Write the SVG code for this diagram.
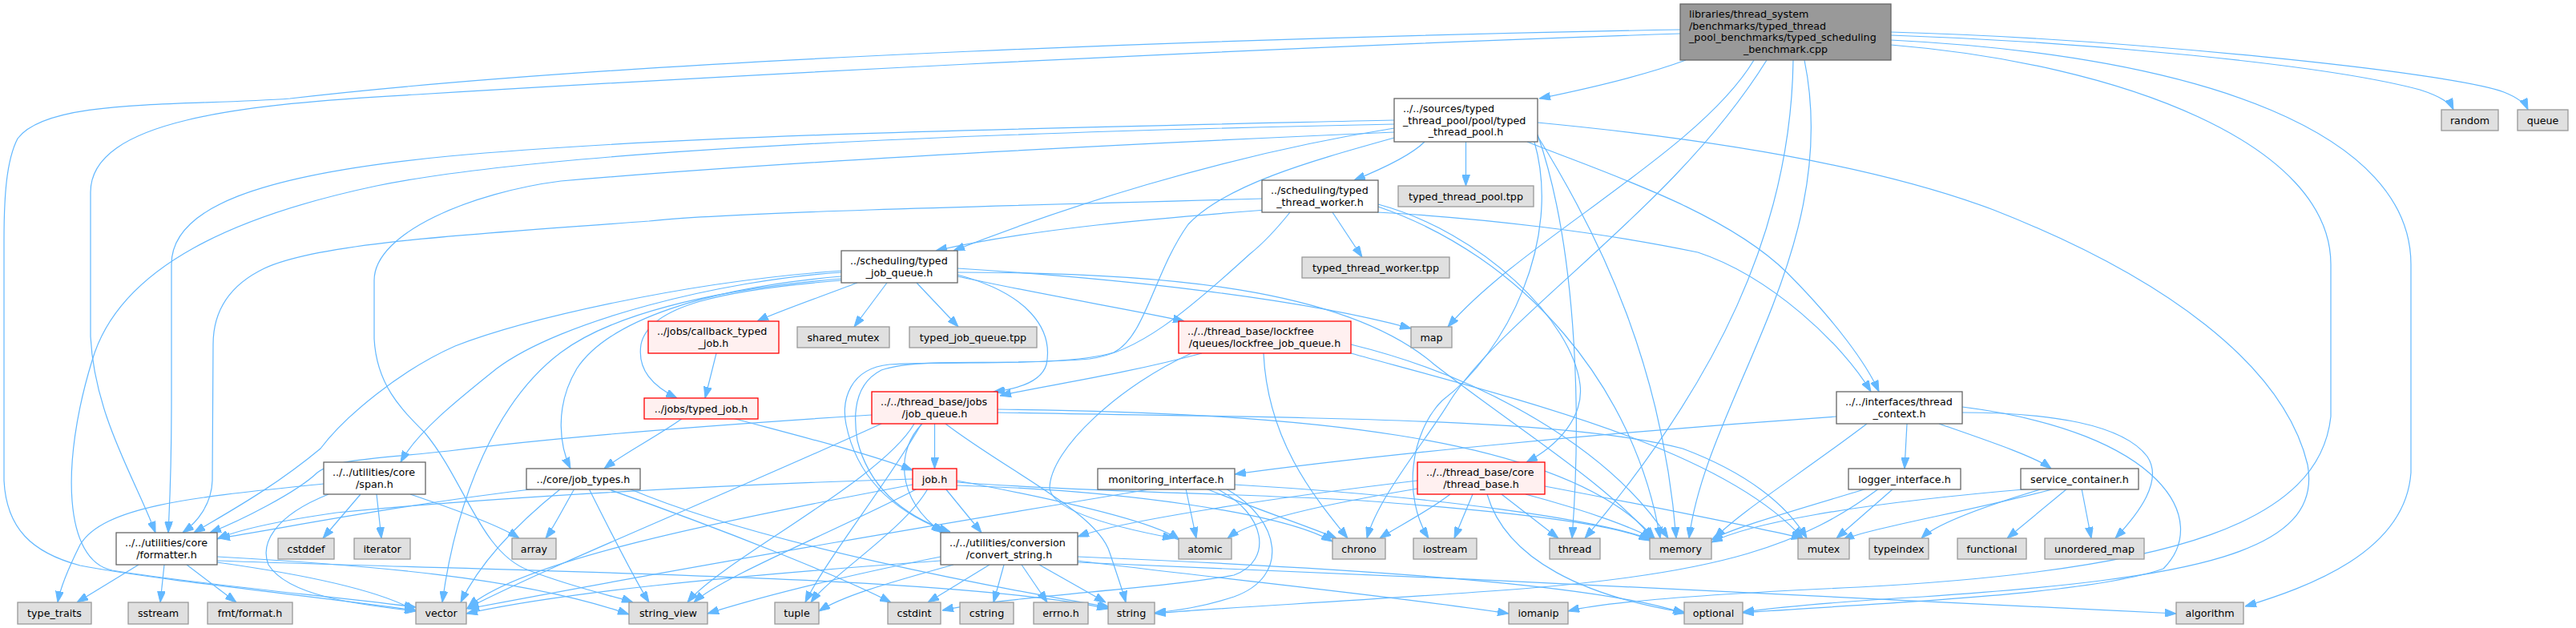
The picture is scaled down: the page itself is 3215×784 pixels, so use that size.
<svg xmlns="http://www.w3.org/2000/svg" width="3215" height="784" viewBox="0 0 3215 784">
<style>
text{font-family:"DejaVu Sans","Liberation Sans",sans-serif;font-size:12.7px;fill:#000}
.c{text-anchor:middle}
.n rect{fill:#fff;stroke:#666;stroke-width:1.3}
.x rect{fill:#e0e0e0;stroke:#999;stroke-width:1.3}
.r rect{fill:#fff0f0;stroke:#f00;stroke-width:1.3}
.m rect{fill:#999;stroke:#666;stroke-width:1.3}
#edges path{fill:none;stroke:#63b8ff;stroke-width:1.2;marker-end:url(#a)}
</style>
<defs><marker id="a" viewBox="0 0 14 10" refX="14" refY="5" markerUnits="userSpaceOnUse" markerWidth="14" markerHeight="10" orient="auto"><path d="M0,0L14,5L0,10z" fill="#63b8ff" stroke="#63b8ff"/></marker></defs>
<rect width="3215" height="784" fill="#fff"/>
<g id="edges">
<path d="M2104,75 C2050,95 1975,112 1921,123"/>
<path d="M2360,44 C2600,52 2900,80 3020,112 C3045,120 3058,128 3062,137"/>
<path d="M2360,40 C2650,48 3060,90 3125,115 C3145,123 3152,130 3155,137"/>
<path d="M2189,75 C2120,190 1900,300 1807,408"/>
<path d="M2205,75 C2090,260 1880,390 1810,500 C1780,550 1720,620 1706,672"/>
<path d="M2238,75 C2235,290 2140,480 1978,672"/>
<path d="M2252,75 C2300,310 2130,500 2108,672"/>
<path d="M2360,56 C2650,80 2909,180 2909,330 L2909,520 C2895,650 2720,712 2320,733 C2120,742 2000,752 1957,763"/>
<path d="M2360,50 C2760,70 3009,170 3009,330 L3009,590 C3002,690 2880,733 2802,757"/>
<path d="M2097,42 C1500,62 850,98 520,118 C300,130 113,150 113,240 L113,420 C118,520 170,600 194,665"/>
<path d="M2097,37 C1600,46 800,72 362,123 C230,133 60,122 22,173 C8,200 5,245 5,300 L5,600 C8,660 40,690 100,706 C200,725 400,745 519,762"/>
<path d="M1778,177 C1760,195 1722,212 1690,225"/>
<path d="M1829.5,177 L1829.5,232"/>
<path d="M1740,160 C1520,195 1320,262 1190,313"/>
<path d="M1740,150 C1300,160 850,168 560,195 C320,218 214,260 214,330 L214,500 C214,600 211,640 210,665"/>
<path d="M1740,155 C1250,165 700,185 470,232 C300,268 150,330 115,450 C75,580 80,700 140,712 C250,730 420,745 519,758"/>
<path d="M1906,177 C2000,215 2150,262 2230,340 C2290,400 2330,455 2345,489"/>
<path d="M1919,153 C2150,175 2350,210 2488,262 C2700,345 2850,455 2880,580 C2900,690 2740,722 2400,745 C2280,752 2220,758 2175,764"/>
<path d="M1919,170 C2000,300 2075,460 2092,672"/>
<path d="M1915,177 C1950,300 1880,440 1800,500 C1760,540 1750,620 1783,672"/>
<path d="M1740,172 C1640,200 1530,230 1483,280 C1440,340 1430,420 1390,440 C1330,458 1200,450 1110,455 C1060,460 1050,500 1056,530 C1070,600 1120,640 1180,663"/>
<path d="M1740,165 C1400,180 1000,200 700,226 C590,240 467,290 467,350 L467,423 C470,480 500,510 530,540 C580,600 600,690 660,712 C720,735 770,745 790,752"/>
<path d="M1919,168 C1965,300 1975,500 1962,672"/>
<path d="M1580,262 C1450,272 1290,285 1168,313"/>
<path d="M1663,265 L1700,321"/>
<path d="M1575,248 C1200,258 900,266 810,276 C600,292 400,302 330,335 C282,358 266,392 266,430 L265,600 C264,630 246,652 228,665"/>
<path d="M1719,265 C1850,272 2000,290 2119,315 C2210,345 2300,430 2335,489"/>
<path d="M1720,255 C1850,290 1962,400 1972,480 C1977,520 1945,556 1905,577"/>
<path d="M1720,258 C1900,320 2040,480 2072,672"/>
<path d="M1610,265 C1590,290 1575,305 1560,317 C1480,390 1420,440 1360,448 C1250,458 1150,445 1100,462 C1065,480 1065,520 1070,550 C1085,610 1130,645 1186,664"/>
<path d="M1070,353 C1020,372 968,390 945,401"/>
<path d="M1107,353 L1066,408"/>
<path d="M1144,353 L1196,408"/>
<path d="M1195,345 C1300,368 1420,388 1478,401"/>
<path d="M1195,335 C1400,348 1620,372 1761,410"/>
<path d="M1195,343 C1282,366 1315,410 1306,455 C1300,475 1275,485 1240,489"/>
<path d="M1050,350 C900,362 810,382 800,430 C795,462 815,482 845,497"/>
<path d="M1050,340 C900,350 700,400 620,460 C570,500 520,540 500,577"/>
<path d="M1050,345 C880,360 760,400 720,460 C690,510 700,560 712,585"/>
<path d="M1050,338 C850,352 650,400 568,432 C500,462 430,520 400,560 C340,610 280,642 242,665"/>
<path d="M1195,340 C1450,340 1680,360 1790,455 C1900,540 2000,600 2063,672"/>
<path d="M1050,348 C880,362 760,395 700,440 C620,500 570,620 552,752"/>
<path d="M894,441 L880,497"/>
<path d="M1500,441 C1400,468 1300,482 1248,494"/>
<path d="M1577,441 C1582,550 1640,620 1682,672"/>
<path d="M1487,441 C1400,480 1310,560 1310,610 C1315,640 1400,660 1465,672"/>
<path d="M1686,430 C1850,470 2010,560 2082,672"/>
<path d="M1686,441 C1900,500 2150,560 2250,672"/>
<path d="M1166.5,529 L1166.5,585"/>
<path d="M1088,518 C900,530 700,545 560,563 C480,572 420,572 396,590 C370,615 300,650 262,665"/>
<path d="M1141,529 C1100,600 900,700 858,752"/>
<path d="M1150,529 C1110,600 1030,700 1005,752"/>
<path d="M1151,529 C1120,560 1115,620 1176,665"/>
<path d="M1180,529 C1260,590 1370,640 1385,690 C1395,720 1402,740 1405,752"/>
<path d="M1245,511 C1600,515 1950,540 2065,672"/>
<path d="M1100,529 C900,620 700,700 582,760"/>
<path d="M1245,515 C1600,522 1950,520 2100,560 C2180,590 2230,630 2255,672"/>
<path d="M1139,598 C900,605 600,622 420,640 C350,650 300,660 271,673"/>
<path d="M1145,610 C1050,660 900,720 866,752"/>
<path d="M1158,610 C1130,660 1035,720 1012,752"/>
<path d="M1180,610 L1225,665"/>
<path d="M1194,600 C1300,620 1440,650 1472,674"/>
<path d="M1194,602 C1350,614 1550,616 1700,625 C1900,640 2020,655 2059,675"/>
<path d="M1194,606 C1400,612 1600,640 1663,676"/>
<path d="M1139,605 C900,650 650,700 584,758"/>
<path d="M914,522 C1000,545 1080,565 1139,587"/>
<path d="M852,522 C820,545 780,565 754,585"/>
<path d="M670,610 C500,630 350,660 273,672"/>
<path d="M717,610 C700,640 690,660 681,672"/>
<path d="M735,610 C760,660 790,720 810,752"/>
<path d="M757,610 C900,660 1050,720 1112,752"/>
<path d="M785,610 C950,680 1250,735 1385,758"/>
<path d="M700,610 C650,650 600,700 575,752"/>
<path d="M404,604 C250,620 130,630 100,680 C85,710 75,735 72,752"/>
<path d="M450,617 L403,672"/>
<path d="M470,617 L476,672"/>
<path d="M512,617 C580,640 630,660 648,672"/>
<path d="M410,617 C340,645 325,680 335,705 C360,745 450,755 519,763"/>
<path d="M173,705 L96,752"/>
<path d="M205,705 L200,752"/>
<path d="M233,705 L295,752"/>
<path d="M271,695 C450,705 650,720 785,767"/>
<path d="M271,700 C700,715 1200,720 1383,760"/>
<path d="M271,702 C400,720 480,740 519,763"/>
<path d="M1174,695 C1050,720 950,745 883,766"/>
<path d="M1190,705 C1100,730 1050,745 1022,763"/>
<path d="M1235,705 L1158,752"/>
<path d="M1253,705 L1240,752"/>
<path d="M1275,705 L1307,752"/>
<path d="M1297,705 L1380,752"/>
<path d="M1345,695 C1700,710 2000,730 2102,766"/>
<path d="M1174,700 C900,720 700,740 582,766"/>
<path d="M1345,700 C1500,720 1750,745 1883,766"/>
<path d="M1345,702 C1800,720 2400,750 2716,766"/>
<path d="M1480,610 L1493,672"/>
<path d="M1540,605 C1800,620 2000,650 2062,674"/>
<path d="M1505,610 C1580,640 1640,660 1668,672"/>
<path d="M1440,610 C1200,650 900,700 584,760"/>
<path d="M1530,610 C1600,650 1610,720 1540,745 C1500,758 1470,762 1441,765"/>
<path d="M1518,610 C1580,640 1590,700 1540,718 C1450,735 1250,745 1176,762"/>
<path d="M2292,520 C2000,540 1700,570 1541,592"/>
<path d="M2380,529 L2377,585"/>
<path d="M2420,529 C2480,550 2540,570 2560,585"/>
<path d="M2330,529 C2250,590 2170,640 2140,672"/>
<path d="M2449,508 C2700,540 2760,650 2700,710 C2600,745 2300,755 2175,765"/>
<path d="M2449,515 C2560,515 2650,530 2680,570 C2700,600 2670,640 2640,672"/>
<path d="M1769,600 C1600,620 1400,650 1345,670"/>
<path d="M1810,617 C1780,640 1740,660 1722,672"/>
<path d="M1838,617 L1815,672"/>
<path d="M1874,617 L1945,672"/>
<path d="M1904,617 C1990,640 2040,660 2062,672"/>
<path d="M1928,607 C2050,630 2200,660 2250,672"/>
<path d="M1856,617 C1880,700 1980,745 2104,765"/>
<path d="M1769,610 C1650,630 1560,650 1532,672"/>
<path d="M2330,610 C2230,640 2160,660 2136,674"/>
<path d="M2363,610 L2292,672"/>
<path d="M2345,610 C2250,680 2150,715 1900,735 C1700,750 1500,760 1441,766"/>
<path d="M2550,610 C2450,640 2410,660 2398,672"/>
<path d="M2580,610 L2505,672"/>
<path d="M2598,610 L2610,672"/>
<path d="M2537,610 C2300,630 2180,655 2136,677"/>
<path d="M2565,610 C2450,640 2330,660 2300,674"/>
</g>
<g id="n1" class="m"><rect x="2097" y="5" width="263" height="70"/><text x="2108" y="22">libraries/thread_system</text><text x="2108" y="36.5">/benchmarks/typed_thread</text><text x="2108" y="51">_pool_benchmarks/typed_scheduling</text><text class="c" x="2228.5" y="65.5">_benchmark.cpp</text></g>
<g id="n2" class="n"><rect x="1740" y="123" width="179" height="54"/><text x="1751" y="140">../../sources/typed</text><text x="1751" y="154.5">_thread_pool/pool/typed</text><text class="c" x="1829.5" y="169">_thread_pool.h</text></g>
<g id="n3" class="x"><rect x="3047" y="137" width="71" height="26"/><text class="c" x="3082.5" y="154.5">random</text></g>
<g id="n4" class="x"><rect x="3142" y="137" width="63" height="26"/><text class="c" x="3173.5" y="154.5">queue</text></g>
<g id="n5" class="n"><rect x="1575" y="225" width="145" height="40"/><text x="1586" y="242">../scheduling/typed</text><text class="c" x="1647.5" y="256.5">_thread_worker.h</text></g>
<g id="n6" class="x"><rect x="1745" y="232" width="169" height="26"/><text class="c" x="1829.5" y="249.5">typed_thread_pool.tpp</text></g>
<g id="n7" class="n"><rect x="1050" y="313" width="145" height="40"/><text x="1061" y="330">../scheduling/typed</text><text class="c" x="1122.5" y="344.5">_job_queue.h</text></g>
<g id="n8" class="x"><rect x="1625" y="321" width="184" height="26"/><text class="c" x="1717" y="338.5">typed_thread_worker.tpp</text></g>
<g id="n9" class="r"><rect x="809" y="401" width="163" height="40"/><text x="820" y="418">../jobs/callback_typed</text><text class="c" x="890.5" y="432.5">_job.h</text></g>
<g id="n10" class="x"><rect x="995" y="408" width="115" height="26"/><text class="c" x="1052.5" y="425.5">shared_mutex</text></g>
<g id="n11" class="x"><rect x="1135" y="408" width="159" height="26"/><text class="c" x="1214.5" y="425.5">typed_job_queue.tpp</text></g>
<g id="n12" class="r"><rect x="1471" y="401" width="215" height="40"/><text x="1482" y="418">../../thread_base/lockfree</text><text class="c" x="1578.5" y="432.5">/queues/lockfree_job_queue.h</text></g>
<g id="n13" class="x"><rect x="1761" y="408" width="51" height="26"/><text class="c" x="1786.5" y="425.5">map</text></g>
<g id="n14" class="r"><rect x="804" y="497" width="142" height="26"/><text class="c" x="875" y="514.5">../jobs/typed_job.h</text></g>
<g id="n15" class="r"><rect x="1088" y="489" width="157" height="40"/><text x="1099" y="506">../../thread_base/jobs</text><text class="c" x="1166.5" y="520.5">/job_queue.h</text></g>
<g id="n16" class="n"><rect x="2292" y="489" width="157" height="40"/><text x="2303" y="506">../../interfaces/thread</text><text class="c" x="2370.5" y="520.5">_context.h</text></g>
<g id="n17" class="n"><rect x="404" y="577" width="127" height="40"/><text x="415" y="594">../../utilities/core</text><text class="c" x="467.5" y="608.5">/span.h</text></g>
<g id="n18" class="n"><rect x="657" y="585" width="142" height="26"/><text class="c" x="728" y="602.5">../core/job_types.h</text></g>
<g id="n19" class="r"><rect x="1139" y="585" width="55" height="26"/><text class="c" x="1166.5" y="602.5">job.h</text></g>
<g id="n20" class="n"><rect x="1370" y="585" width="171" height="26"/><text class="c" x="1455.5" y="602.5">monitoring_interface.h</text></g>
<g id="n21" class="r"><rect x="1769" y="577" width="159" height="40"/><text x="1780" y="594">../../thread_base/core</text><text class="c" x="1848.5" y="608.5">/thread_base.h</text></g>
<g id="n22" class="n"><rect x="2307" y="585" width="140" height="26"/><text class="c" x="2377" y="602.5">logger_interface.h</text></g>
<g id="n23" class="n"><rect x="2522" y="585" width="147" height="26"/><text class="c" x="2595.5" y="602.5">service_container.h</text></g>
<g id="n24" class="n"><rect x="145" y="665" width="126" height="40"/><text x="156" y="682">../../utilities/core</text><text class="c" x="208" y="696.5">/formatter.h</text></g>
<g id="n25" class="x"><rect x="347" y="672" width="70" height="26"/><text class="c" x="382" y="689.5">cstddef</text></g>
<g id="n26" class="x"><rect x="442" y="672" width="70" height="26"/><text class="c" x="477" y="689.5">iterator</text></g>
<g id="n27" class="x"><rect x="639" y="672" width="55" height="26"/><text class="c" x="666.5" y="689.5">array</text></g>
<g id="n28" class="n"><rect x="1174" y="665" width="171" height="40"/><text x="1185" y="682">../../utilities/conversion</text><text class="c" x="1259.5" y="696.5">/convert_string.h</text></g>
<g id="n29" class="x"><rect x="1471" y="672" width="66" height="26"/><text class="c" x="1504" y="689.5">atomic</text></g>
<g id="n30" class="x"><rect x="1663" y="672" width="66" height="26"/><text class="c" x="1696" y="689.5">chrono</text></g>
<g id="n31" class="x"><rect x="1764" y="672" width="79" height="26"/><text class="c" x="1803.5" y="689.5">iostream</text></g>
<g id="n32" class="x"><rect x="1934" y="672" width="63" height="26"/><text class="c" x="1965.5" y="689.5">thread</text></g>
<g id="n33" class="x"><rect x="2059" y="672" width="77" height="26"/><text class="c" x="2097.5" y="689.5">memory</text></g>
<g id="n34" class="x"><rect x="2244" y="672" width="64" height="26"/><text class="c" x="2276" y="689.5">mutex</text></g>
<g id="n35" class="x"><rect x="2333" y="672" width="74" height="26"/><text class="c" x="2370" y="689.5">typeindex</text></g>
<g id="n36" class="x"><rect x="2443" y="672" width="86" height="26"/><text class="c" x="2486" y="689.5">functional</text></g>
<g id="n37" class="x"><rect x="2552" y="672" width="124" height="26"/><text class="c" x="2614" y="689.5">unordered_map</text></g>
<g id="n38" class="x"><rect x="22" y="752" width="92" height="27"/><text class="c" x="68" y="770">type_traits</text></g>
<g id="n39" class="x"><rect x="160" y="752" width="75" height="27"/><text class="c" x="197.5" y="770">sstream</text></g>
<g id="n40" class="x"><rect x="259" y="752" width="106" height="27"/><text class="c" x="312" y="770">fmt/format.h</text></g>
<g id="n41" class="x"><rect x="519" y="752" width="63" height="27"/><text class="c" x="550.5" y="770">vector</text></g>
<g id="n42" class="x"><rect x="785" y="752" width="98" height="27"/><text class="c" x="834" y="770">string_view</text></g>
<g id="n43" class="x"><rect x="967" y="752" width="55" height="27"/><text class="c" x="994.5" y="770">tuple</text></g>
<g id="n44" class="x"><rect x="1108" y="752" width="66" height="27"/><text class="c" x="1141" y="770">cstdint</text></g>
<g id="n45" class="x"><rect x="1198" y="752" width="67" height="27"/><text class="c" x="1231.5" y="770">cstring</text></g>
<g id="n46" class="x"><rect x="1290" y="752" width="68" height="27"/><text class="c" x="1324" y="770">errno.h</text></g>
<g id="n47" class="x"><rect x="1383" y="752" width="58" height="27"/><text class="c" x="1412" y="770">string</text></g>
<g id="n48" class="x"><rect x="1883" y="752" width="74" height="27"/><text class="c" x="1920" y="770">iomanip</text></g>
<g id="n49" class="x"><rect x="2102" y="752" width="73" height="27"/><text class="c" x="2138.5" y="770">optional</text></g>
<g id="n50" class="x"><rect x="2716" y="752" width="84" height="27"/><text class="c" x="2758" y="770">algorithm</text></g>
</svg>
